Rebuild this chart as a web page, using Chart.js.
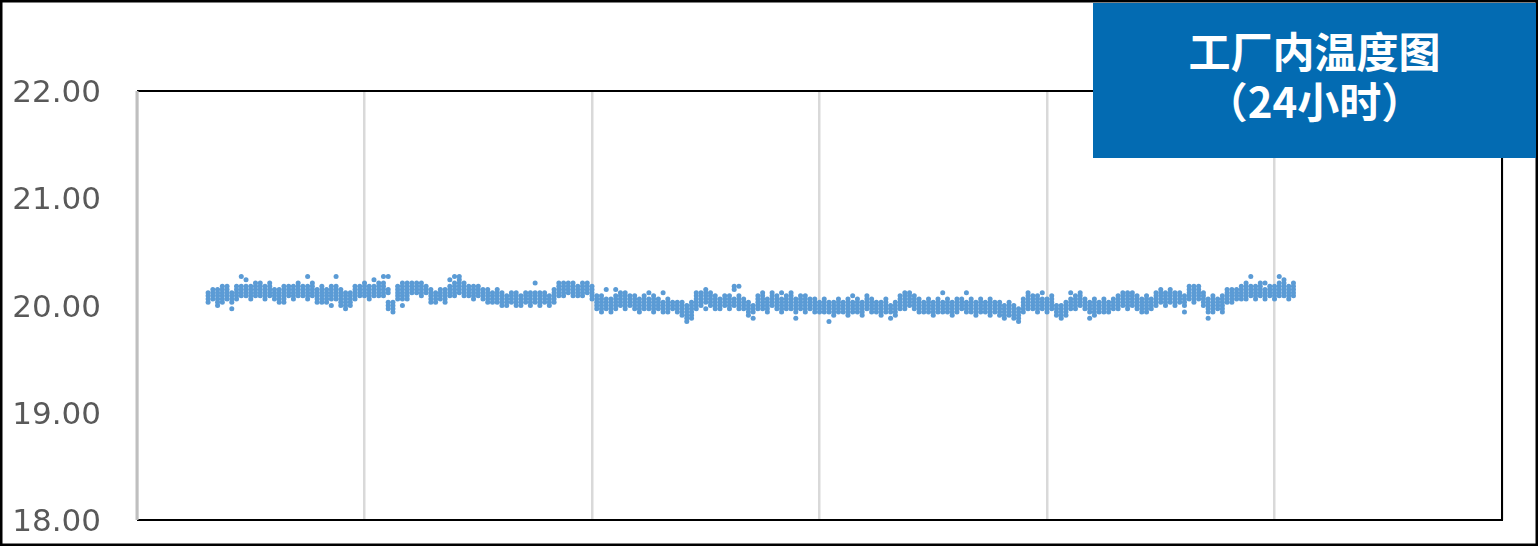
<!DOCTYPE html>
<html>
<head>
<meta charset="utf-8">
<script src="https://cdn.jsdelivr.net/npm/chart.js@4"></script>
<style>
  body { margin: 0; background: #fff; }
  #wrap { position: relative; width: 1539px; height: 547px; }
  #title {
    position: absolute; left: 1093px; top: 3px; width: 443px; height: 155px;
    background: #036bb2; color: #fff;
    font: bold 42px "Noto Sans CJK SC", sans-serif;
    text-align: center; line-height: 50px;
    box-sizing: border-box; padding-top: 22px;
  }
</style>
</head>
<body>
<div id="wrap">
  <canvas id="myChart" width="1539" height="547"></canvas>
  <div id="title">工厂内温度图<br>（24小时）</div>
</div>
<script>
// readings every 5 minutes, first slot at 01:15
const startMinute = 75;
const stepMinutes = 5;
const hourTicks = [0, 4, 8, 12, 16, 20, 24];
const tempTicks = [18, 19, 20, 21, 22];

// each entry = the temperatures logged inside one 5 minute slot
const readings = [
  [20.03,20.06,20.09,20.12], [20.06,20.09,20.12,20.15], [20.00,20.03,20.06,20.09,20.12,20.15],
  [20.03,20.06,20.09,20.12,20.15,20.18], [20.06,20.09,20.12,20.15,20.18], [19.97,20.03,20.06,20.09,20.12],
  [20.06,20.09,20.12,20.15,20.18], [20.09,20.12,20.15,20.18,20.27], [20.09,20.12,20.15,20.18,20.24],
  [20.06,20.09,20.12,20.15,20.18], [20.09,20.12,20.15,20.18,20.21], [20.09,20.12,20.15,20.18,20.21],
  [20.06,20.09,20.12,20.15,20.18], [20.09,20.12,20.15,20.18,20.21], [20.06,20.09,20.12,20.15],
  [20.03,20.06,20.09,20.12,20.15], [20.03,20.06,20.09,20.12,20.15,20.18], [20.09,20.12,20.15,20.18],
  [20.06,20.09,20.12,20.15,20.18], [20.09,20.12,20.15,20.18,20.21], [20.09,20.12,20.15,20.18],
  [20.06,20.09,20.12,20.15,20.18,20.27], [20.09,20.12,20.15,20.18,20.21], [20.03,20.06,20.09,20.12,20.15],
  [20.03,20.06,20.09,20.12,20.15,20.18], [20.03,20.06,20.09,20.12,20.15], [20.00,20.06,20.09,20.12,20.15,20.18],
  [20.06,20.09,20.12,20.15,20.18,20.27], [20.00,20.03,20.06,20.09,20.12,20.15], [19.97,20.00,20.03,20.06,20.09,20.12],
  [20.00,20.03,20.06,20.09,20.12], [20.06,20.09,20.12,20.15,20.18], [20.09,20.12,20.15,20.18],
  [20.09,20.12,20.15,20.18,20.21], [20.06,20.09,20.12,20.15,20.18], [20.09,20.12,20.15,20.18,20.24],
  [20.09,20.12,20.15,20.18,20.21], [20.09,20.12,20.15,20.18,20.21,20.27], [19.97,20.00,20.03,20.12,20.15,20.27],
  [19.94,19.97,20.00,20.03], [20.06,20.09,20.12,20.15,20.18], [20.00,20.06,20.09,20.12,20.15,20.18,20.21],
  [20.06,20.09,20.12,20.15,20.18,20.21], [20.12,20.15,20.18,20.21], [20.12,20.15,20.18,20.21],
  [20.09,20.12,20.15,20.18,20.21], [20.12,20.15,20.18], [20.03,20.06,20.09,20.12,20.15],
  [20.03,20.06,20.09,20.12], [20.06,20.09,20.12,20.15], [20.03,20.06,20.09,20.12,20.15],
  [20.09,20.12,20.15,20.18,20.24], [20.09,20.12,20.15,20.18,20.21,20.27], [20.12,20.15,20.18,20.21,20.24,20.27],
  [20.09,20.12,20.15,20.18,20.21], [20.09,20.12,20.15,20.18], [20.06,20.09,20.12,20.15,20.18],
  [20.09,20.12,20.15,20.18], [20.06,20.09,20.12,20.15], [20.03,20.06,20.09,20.12,20.15],
  [20.03,20.06,20.09,20.12], [20.03,20.06,20.09,20.12,20.15], [20.00,20.03,20.06,20.09,20.12],
  [20.00,20.03,20.06,20.09], [20.03,20.06,20.09,20.12], [20.00,20.03,20.06,20.09,20.12],
  [20.00,20.03,20.06,20.09], [20.03,20.06,20.09,20.12], [20.00,20.03,20.06,20.09,20.12],
  [20.03,20.06,20.09,20.12,20.21], [20.00,20.03,20.06,20.09,20.12], [20.03,20.06,20.09,20.12],
  [20.00,20.03,20.06,20.09], [20.03,20.06,20.09,20.12,20.15], [20.09,20.12,20.15,20.18,20.21],
  [20.09,20.12,20.15,20.18,20.21], [20.12,20.15,20.18,20.21], [20.09,20.12,20.15,20.18,20.21],
  [20.09,20.12,20.15,20.18], [20.09,20.12,20.15,20.18,20.21], [20.12,20.15,20.18,20.21],
  [20.06,20.09,20.12,20.15,20.18], [19.97,20.00,20.03,20.06,20.09], [19.94,19.97,20.00,20.03,20.06,20.09],
  [19.97,20.00,20.03,20.06,20.15], [19.94,19.97,20.00,20.03,20.06], [19.97,20.00,20.03,20.06,20.09,20.15],
  [20.00,20.03,20.06,20.09,20.12], [19.97,20.00,20.03,20.06,20.09,20.12], [20.00,20.03,20.06,20.09],
  [19.97,20.00,20.03,20.06,20.09], [19.94,19.97,20.00,20.03,20.06], [19.97,20.00,20.03,20.06,20.09],
  [19.97,20.00,20.03,20.06,20.12], [19.94,19.97,20.00,20.03,20.06,20.09], [19.97,20.00,20.03,20.06],
  [19.94,19.97,20.00,20.03,20.12], [19.94,19.97,20.00,20.03,20.06], [19.97,20.00,20.03],
  [19.94,19.97,20.00,20.03], [19.91,19.94,19.97,20.00,20.03], [19.85,19.88,19.91,19.94,19.97,20.00],
  [19.88,19.91,19.94,19.97,20.00,20.03], [19.97,20.00,20.03,20.06,20.09,20.12], [20.00,20.03,20.06,20.09,20.12],
  [19.97,20.03,20.06,20.09,20.12,20.15], [20.00,20.03,20.06,20.09,20.12], [19.97,20.00,20.03,20.06,20.09],
  [19.97,20.00,20.03,20.06], [20.00,20.03,20.06,20.09], [19.97,20.00,20.03,20.06,20.09],
  [20.00,20.03,20.06,20.15,20.18], [19.97,20.00,20.03,20.06,20.09,20.18], [19.97,20.00,20.03,20.06],
  [19.91,19.94,19.97,20.00,20.03], [19.88,19.94,19.97,20.00], [19.97,20.00,20.03,20.06,20.09],
  [19.97,20.00,20.03,20.06,20.09,20.12], [19.94,19.97,20.00,20.03,20.06], [20.00,20.03,20.06,20.09,20.12],
  [19.97,20.00,20.03,20.06,20.09], [19.94,19.97,20.00,20.03,20.06,20.12], [19.97,20.00,20.03,20.06,20.09],
  [19.97,20.00,20.03,20.06,20.09,20.12], [19.88,19.94,19.97,20.00,20.03,20.06], [19.97,20.00,20.03,20.06,20.09],
  [19.94,19.97,20.00,20.03,20.06,20.09], [19.97,20.00,20.03,20.06], [19.94,19.97,20.00,20.03,20.06],
  [19.94,19.97,20.00,20.03], [19.94,19.97,20.00,20.03,20.06], [19.85,19.94,19.97,20.00,20.03],
  [19.91,19.94,19.97,20.00,20.03], [19.94,19.97,20.00,20.03,20.06], [19.94,19.97,20.00,20.03],
  [19.91,19.94,19.97,20.00,20.03,20.06], [19.94,19.97,20.00,20.03,20.09], [19.94,19.97,20.00,20.03,20.06],
  [19.91,19.94,19.97,20.00,20.03], [19.97,20.00,20.03,20.06,20.09], [19.94,19.97,20.00,20.03,20.06],
  [19.94,19.97,20.00,20.03], [19.91,19.94,19.97,20.00,20.03], [19.94,19.97,20.00,20.03,20.06],
  [19.88,19.94,19.97,20.00], [19.91,19.94,19.97,20.00,20.03], [19.97,20.00,20.03,20.06,20.09],
  [19.97,20.00,20.03,20.06,20.09,20.12], [20.00,20.03,20.06,20.09,20.12], [19.97,20.00,20.03,20.06,20.09],
  [19.94,19.97,20.00,20.03,20.06], [19.94,19.97,20.00,20.03], [19.94,19.97,20.00,20.03,20.06],
  [19.91,19.94,19.97,20.00,20.03], [19.94,19.97,20.00,20.03,20.06], [19.94,19.97,20.00,20.03,20.12],
  [19.94,19.97,20.00,20.03,20.06], [19.91,19.94,19.97,20.00,20.03], [19.94,19.97,20.00,20.03,20.06],
  [19.97,20.00,20.03,20.06], [19.94,19.97,20.00,20.03,20.12], [19.94,19.97,20.00,20.03,20.06],
  [19.91,19.94,19.97,20.00,20.03], [19.94,19.97,20.00,20.03,20.06], [19.94,19.97,20.00,20.03],
  [19.91,19.94,19.97,20.00,20.03,20.06], [19.94,19.97,20.00,20.03], [19.91,19.94,19.97,20.00,20.03],
  [19.88,19.91,19.94,19.97,20.00], [19.91,19.94,19.97,20.00,20.03], [19.88,19.91,19.94,19.97,20.00],
  [19.85,19.88,19.91,19.94,19.97], [19.94,19.97,20.00,20.03,20.06], [19.97,20.00,20.03,20.06,20.09,20.12],
  [19.97,20.00,20.03,20.06,20.09], [19.94,19.97,20.00,20.03,20.06,20.09], [19.97,20.00,20.03,20.06,20.12],
  [19.94,19.97,20.00,20.03,20.06], [19.97,20.00,20.03,20.06,20.09], [19.91,19.94,19.97,20.00],
  [19.88,19.91,19.94,19.97,20.00], [19.91,19.94,19.97,20.00,20.03], [19.97,20.00,20.03,20.06,20.12],
  [19.97,20.00,20.03,20.06,20.09], [20.00,20.03,20.06,20.09,20.12], [19.97,20.00,20.03,20.06],
  [19.88,19.94,19.97,20.00,20.03], [19.91,19.94,19.97,20.00,20.03,20.06], [19.94,19.97,20.00,20.03],
  [19.94,19.97,20.00,20.03,20.06], [19.94,19.97,20.00,20.03], [19.97,20.00,20.03,20.06],
  [19.97,20.00,20.03,20.06,20.09], [20.00,20.03,20.06,20.09,20.12], [19.97,20.00,20.03,20.06,20.09,20.12],
  [20.00,20.03,20.06,20.09,20.12], [19.97,20.00,20.03,20.06,20.09], [19.94,19.97,20.00,20.03,20.06],
  [19.94,19.97,20.00,20.03,20.06,20.09], [19.97,20.00,20.03,20.06], [20.00,20.03,20.06,20.09,20.12],
  [20.03,20.06,20.09,20.12,20.15], [20.00,20.03,20.06,20.09,20.12], [20.03,20.06,20.09,20.12,20.15],
  [20.00,20.03,20.06,20.09,20.12], [20.03,20.06,20.09,20.12], [19.94,20.00,20.03,20.06,20.09],
  [20.06,20.09,20.12,20.15,20.18], [20.03,20.06,20.09,20.12,20.15,20.18], [20.06,20.09,20.12,20.15,20.18],
  [20.00,20.03,20.06,20.09,20.12], [19.88,19.94,19.97,20.00,20.03,20.06], [19.94,19.97,20.00,20.03,20.06,20.09],
  [19.97,20.00,20.03,20.06], [19.94,19.97,20.00,20.03,20.06,20.09], [20.03,20.06,20.09,20.12,20.15],
  [20.03,20.06,20.09,20.12,20.15], [20.06,20.09,20.12,20.15], [20.06,20.09,20.12,20.15,20.18],
  [20.06,20.09,20.12,20.15,20.18,20.21], [20.09,20.12,20.15,20.18,20.27], [20.06,20.09,20.12,20.15,20.18],
  [20.09,20.12,20.15,20.18,20.21], [20.06,20.09,20.12,20.15,20.21], [20.09,20.12,20.15,20.18],
  [20.06,20.09,20.12,20.15,20.18], [20.09,20.12,20.15,20.18,20.21,20.27], [20.09,20.12,20.15,20.18,20.21,20.24],
  [20.06,20.09,20.12,20.15,20.18], [20.09,20.12,20.15,20.18,20.21]
];

const points = [];
readings.forEach((slot, i) => {
  const hour = (startMinute + i * stepMinutes) / 60;
  slot.forEach(t => points.push({ x: hour, y: t }));
});

// black frame on top/right/bottom, grey axis line on the left
const plotFrame = {
  id: 'plotFrame',
  beforeDatasetsDraw(chart) {
    const { ctx, chartArea: a } = chart;
    ctx.save();
    ctx.strokeStyle = '#000';
    ctx.lineWidth = 2;
    ctx.beginPath();
    ctx.moveTo(a.left, a.top);
    ctx.lineTo(a.right, a.top);
    ctx.lineTo(a.right, a.bottom);
    ctx.lineTo(a.left, a.bottom);
    ctx.stroke();
    ctx.strokeStyle = '#bfbfbf';
    ctx.lineWidth = 3;
    ctx.beginPath();
    ctx.moveTo(a.left, a.top);
    ctx.lineTo(a.left, a.bottom);
    ctx.stroke();
    ctx.restore();
  },
  afterDraw(chart) {
    const ctx = chart.ctx;
    ctx.save();
    ctx.strokeStyle = '#000';
    ctx.lineWidth = 2.5;
    ctx.strokeRect(1.25, 1.25, chart.width - 3.5, chart.height - 3.5);
    ctx.restore();
  }
};

new Chart(document.getElementById('myChart'), {
  type: 'scatter',
  data: {
    datasets: [{
      label: '温度',
      data: points,
      backgroundColor: '#5b9bd5',
      borderWidth: 0,
      pointRadius: 2.5,
      pointHoverRadius: 2.5
    }]
  },
  options: {
    responsive: false,
    animation: false,
    devicePixelRatio: 1,
    layout: { padding: { left: 0, right: 37, top: 91, bottom: 27 } },
    plugins: { legend: { display: false }, tooltip: { enabled: false } },
    scales: {
      x: {
        type: 'linear',
        min: hourTicks[0],
        max: hourTicks[hourTicks.length - 1],
        afterBuildTicks: s => { s.ticks = hourTicks.map(v => ({ value: v })); },
        afterFit: s => { s.height = 0; },
        ticks: { display: false },
        grid: { color: '#d9d9d9', lineWidth: 2.5, drawTicks: false },
        border: { display: false }
      },
      y: {
        min: tempTicks[0],
        max: tempTicks[tempTicks.length - 1],
        afterBuildTicks: s => { s.ticks = tempTicks.map(v => ({ value: v })); },
        afterFit: s => { s.width = 137; },
        ticks: {
          padding: 0,
          labelOffset: 3,
          color: '#595959',
          font: { family: 'DejaVu Sans', size: 31 },
          callback: v => v.toFixed(2)
        },
        // invisible tick marks only push the labels away from the axis
        grid: { color: 'transparent', tickColor: 'transparent', drawOnChartArea: false, drawTicks: true, tickLength: 36 },
        border: { display: false }
      }
    }
  },
  plugins: [plotFrame]
});
</script>
</body>
</html>
